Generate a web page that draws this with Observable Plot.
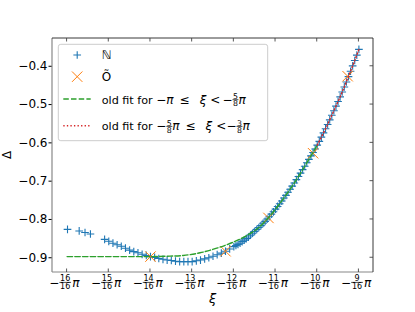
<!DOCTYPE html>
<html><head><meta charset="utf-8">
<script src="https://cdn.jsdelivr.net/npm/d3@7"></script>
<script src="https://cdn.jsdelivr.net/npm/@observablehq/plot@0.6"></script>
<style>body{margin:0;background:#fff}</style>
</head><body><div id="chart"></div>
<script>
// ξ expressed in units of π/16
const nK = [-15.99, -15.71, -15.57, -15.44,
  -15.1, -15.0, -14.9, -14.8, -14.7, -14.6, -14.5, -14.4, -14.3, -14.2, -14.1,
  -14.0, -13.9, -13.8, -13.7, -13.6, -13.5, -13.4, -13.3, -13.2, -13.1,
  -13.0, -12.9, -12.8, -12.7, -12.6, -12.5, -12.4, -12.3, -12.2, -12.1,
  -12.0, -11.95, -11.9, -11.85, -11.8, -11.75, -11.7, -11.65, -11.6, -11.55,
  -11.5, -11.45, -11.4, -11.35, -11.3, -11.25, -11.2, -11.15, -11.1, -11.05,
  -11.0, -10.95, -10.9, -10.85, -10.8, -10.75, -10.7, -10.65, -10.6, -10.55,
  -10.5, -10.45, -10.4, -10.35, -10.3, -10.25, -10.2, -10.15, -10.1, -10.05,
  -10.0, -9.95, -9.9, -9.85, -9.8, -9.75, -9.7, -9.65, -9.6, -9.55,
  -9.5, -9.45, -9.4, -9.35, -9.3, -9.25, -9.2, -9.15, -9.1, -9.05, -9.0];
const nD = [-0.826, -0.830, -0.834, -0.838,
  -0.852, -0.857, -0.862, -0.866, -0.870, -0.875, -0.880, -0.884, -0.887, -0.891, -0.894,
  -0.897, -0.899, -0.902, -0.904, -0.906, -0.907, -0.909, -0.910, -0.910, -0.910,
  -0.910, -0.908, -0.906, -0.903, -0.900, -0.896, -0.892, -0.888, -0.883, -0.877,
  -0.871, -0.868, -0.865, -0.862, -0.858, -0.854, -0.850, -0.846, -0.841, -0.836,
  -0.831, -0.826, -0.821, -0.816, -0.810, -0.805, -0.799, -0.793, -0.786, -0.780,
  -0.773, -0.766, -0.759, -0.752, -0.744, -0.737, -0.729, -0.721, -0.713, -0.705,
  -0.696, -0.688, -0.679, -0.670, -0.661, -0.652, -0.643, -0.634, -0.625, -0.616,
  -0.606, -0.596, -0.585, -0.574, -0.563, -0.552, -0.540, -0.528, -0.516, -0.504,
  -0.492, -0.480, -0.467, -0.454, -0.441, -0.427, -0.413, -0.399, -0.385, -0.371, -0.356];
const oK = [-14.0, -12.2, -11.17, -10.1, -9.27];
const oD = [-0.897, -0.883, -0.796, -0.627, -0.426];
const gK = [-16, -15.0, -14.0, -13.6, -13.21, -12.81, -12.41, -12.01, -11.69, -11.4, -11.2, -11.0, -10.8, -10.6, -10.4, -10.2, -10.0];
const gD = [-0.897, -0.897, -0.897, -0.896, -0.894, -0.887, -0.875, -0.859, -0.842, -0.821, -0.799, -0.773, -0.744, -0.713, -0.679, -0.643, -0.606];
const rK = [-10.0, -9.8, -9.6, -9.4, -9.2, -9.0];
const rD = [-0.606, -0.563, -0.516, -0.467, -0.413, -0.356];
const xTicks = [-16, -15, -14, -13, -12, -11, -10, -9];
const xTickDen = "16";
const yTicks = [-0.9, -0.8, -0.7, -0.6, -0.5, -0.4];
const xDomain = [-16.35, -8.65];
const yDomain = [-0.9385, -0.3275];

const C0 = "#1f77b4", C1 = "#ff7f0e", C2 = "#2ca02c", C3 = "#d62728";
const N = nK.map((k, i) => ({k, d: nD[i]}));
const O = oK.map((k, i) => ({k, d: oD[i]}));
const G = gK.map((k, i) => ({k, d: gD[i]}));
const R = rK.map((k, i) => ({k, d: rD[i]}));
const plusR = 2.6, timesR = 4.8;

const svg = Plot.plot({
  width: 415, height: 312,
  marginLeft: 52, marginRight: 42, marginTop: 38, marginBottom: 40,
  style: {fontFamily: "DejaVu Sans", fontSize: "12px", background: "white", color: "black"},
  x: {domain: xDomain, axis: null},
  y: {domain: yDomain, ticks: yTicks, tickSize: 3.5, tickPadding: 1.5,
      tickFormat: d => "\u2212" + (-d).toFixed(1), label: null},
  marks: [
    Plot.dot(N, {x: "k", y: "d", symbol: "plus", r: plusR, stroke: C0, strokeWidth: 1.1}),
    Plot.dot(O, {x: "k", y: "d", symbol: "times", r: timesR, stroke: C1, strokeWidth: 1}),
    Plot.line(G, {x: "k", y: "d", stroke: C2, strokeWidth: 1.4, strokeDasharray: "5.5,2.2", curve: "monotone-x"}),
    Plot.line(R, {x: "k", y: "d", stroke: C3, strokeWidth: 1.4, strokeDasharray: "1.35,2.2", curve: "monotone-x"})
  ]
});
document.getElementById("chart").append(svg);

const xs = svg.scale("x"), ys = svg.scale("y");
const X = v => xs.apply(v), Y = v => ys.apply(v);
const L = X(xDomain[0]), Rr = X(xDomain[1]), B = Y(yDomain[0]), T = Y(yDomain[1]);
const root = d3.select(svg);
const over = root.append("g").attr("text-anchor", "start");

// spines
over.append("line").attr("x1", L).attr("x2", L).attr("y1", T).attr("y2", B).attr("stroke", "#888").attr("stroke-width", 1.2);
over.append("line").attr("x1", L).attr("x2", Rr).attr("y1", B).attr("y2", B).attr("stroke", "#888").attr("stroke-width", 1.2);
over.append("line").attr("x1", L).attr("x2", Rr).attr("y1", T).attr("y2", T).attr("stroke", "#222").attr("stroke-width", 0.9);
over.append("line").attr("x1", Rr).attr("x2", Rr).attr("y1", T).attr("y2", B).attr("stroke", "#222").attr("stroke-width", 0.9);
// inward ticks
for (const k of xTicks) {
  over.append("line").attr("x1", X(k)).attr("x2", X(k)).attr("y1", B).attr("y2", B - 3.5).attr("stroke", "#444").attr("stroke-width", 0.9);
  over.append("line").attr("x1", X(k)).attr("x2", X(k)).attr("y1", T).attr("y2", T + 3.5).attr("stroke", "#444").attr("stroke-width", 0.9);
}
for (const v of yTicks) {
  over.append("line").attr("x1", Rr).attr("x2", Rr - 3.5).attr("y1", Y(v)).attr("y2", Y(v)).attr("stroke", "#444").attr("stroke-width", 0.9);
}

function seq(g, x0, base, segs) {
  let x = x0;
  for (const s of segs) {
    if (typeof s === "number") { x += s; continue; }
    if (s.frac) {
      const [n, d] = s.frac;
      const tn = g.append("text").attr("font-size", s.fs).attr("text-anchor", "middle").text(n);
      const td = g.append("text").attr("font-size", s.fs).attr("text-anchor", "middle").text(d);
      const w = Math.max(tn.node().getComputedTextLength(), td.node().getComputedTextLength()) + s.pad;
      tn.attr("x", x + w / 2).attr("y", base + s.nb);
      td.attr("x", x + w / 2).attr("y", base + s.db);
      g.append("line").attr("x1", x).attr("x2", x + w).attr("y1", base + s.bar).attr("y2", base + s.bar)
        .attr("stroke", "black").attr("stroke-width", 0.7);
      x += w;
    } else {
      const t = g.append("text").attr("x", x).attr("y", base).attr("font-size", s.fs)
        .attr("text-anchor", "start").text(s.t);
      if (s.it) t.attr("font-style", "italic");
      x += t.node().getComputedTextLength();
    }
  }
  return x - x0;
}

// x tick labels: −k/16 π
for (const k of xTicks) {
  const g = over.append("g").attr("fill", "black");
  const w = seq(g, 0, B + 15.4, [
    {t: "\u2212", fs: 12},
    {frac: [String(-k), xTickDen], fs: 8, pad: 1.5, nb: -6, db: 1.8, bar: -5},
    1.2,
    {t: "\u03c0", fs: 12, it: true}
  ]);
  g.attr("transform", `translate(${X(k) - w / 2 - 2.2},0)`);
}

// axis labels
over.append("text").attr("x", (L + Rr) / 2).attr("y", B + 31).attr("text-anchor", "middle")
  .attr("font-size", 13).attr("font-style", "italic").text("\u03be");
over.append("text").attr("transform", `translate(10.5,${(T + B) / 2}) rotate(-90)`).attr("text-anchor", "middle")
  .attr("font-size", 12).text("\u0394");

// legend
const lg = over.append("g");
lg.append("rect").attr("x", 58.3).attr("y", 44.3).attr("width", 209.4).attr("height", 96.4).attr("rx", 2.5)
  .attr("fill", "white").attr("fill-opacity", 0.8).attr("stroke", "#cccccc").attr("stroke-width", 1);
const mx = 77.2, tx = 101.7;
lg.append("path").attr("d", d3.symbol(d3.symbolPlus, Math.PI * plusR * plusR)()).attr("transform", `translate(${mx},55)`)
  .attr("stroke", C0).attr("fill", "none").attr("stroke-width", 1.1);
lg.append("path").attr("d", d3.symbol(d3.symbolTimes, Math.PI * timesR * timesR)()).attr("transform", `translate(${mx},76.7)`)
  .attr("stroke", C1).attr("fill", "none").attr("stroke-width", 1);
lg.append("line").attr("x1", 63.3).attr("x2", 90.7).attr("y1", 99).attr("y2", 99)
  .attr("stroke", C2).attr("stroke-width", 1.4).attr("stroke-dasharray", "5.5,2.2");
lg.append("line").attr("x1", 63.3).attr("x2", 90.7).attr("y1", 125.7).attr("y2", 125.7)
  .attr("stroke", C3).attr("stroke-width", 1.4).attr("stroke-dasharray", "1.35,2.2");
lg.append("text").attr("x", tx).attr("y", 59.3).attr("font-size", 12).text("\u2115");
lg.append("text").attr("x", tx).attr("y", 81).attr("font-size", 12).text("O\u0303");
const fr = (n, d) => ({frac: [n, d], fs: 7.8, pad: 1, nb: -4.6, db: 2.4, bar: -3.8});
seq(lg, tx, 103.5, [
  {t: "old fit for", fs: 11.2}, 3.6,
  {t: "\u2212", fs: 12}, {t: "\u03c0", fs: 12, it: true}, 6,
  {t: "\u2264", fs: 12}, 10,
  {t: "\u03be", fs: 12, it: true}, 4,
  {t: "<", fs: 12}, 2,
  {t: "\u2212", fs: 12}, fr("5", "8"), {t: "\u03c0", fs: 12, it: true}
]);
seq(lg, tx, 130.2, [
  {t: "old fit for", fs: 11.2}, 3.6,
  {t: "\u2212", fs: 12}, fr("5", "8"), {t: "\u03c0", fs: 12, it: true}, 6,
  {t: "\u2264", fs: 12}, 10,
  {t: "\u03be", fs: 12, it: true}, 4,
  {t: "<", fs: 12}, 0,
  {t: "\u2212", fs: 12}, fr("3", "8"), {t: "\u03c0", fs: 12, it: true}
]);
</script>
</body></html>
